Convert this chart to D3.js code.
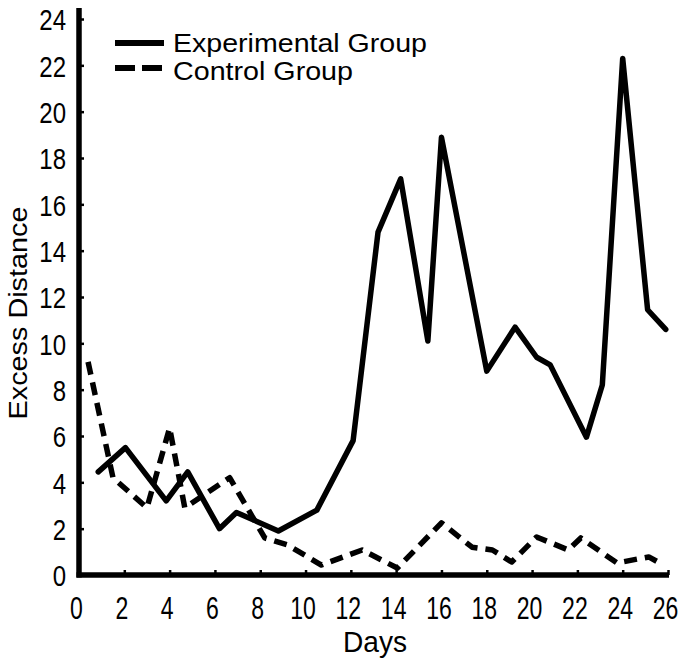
<!DOCTYPE html>
<html>
<head>
<meta charset="utf-8">
<script src="https://cdn.jsdelivr.net/npm/d3@7"></script>
<style>
  body { margin: 0; background: #fff; }
  text { font-family: "Liberation Sans", Arial, sans-serif; fill: #000; }
</style>
</head>
<body>
<div id="chart"></div>
<script>
// days and values
const expDays   = [0.85, 2.05, 3.85, 4.8, 6.2, 6.95, 8.8, 10.5, 12.1, 13.2, 14.2, 15.4, 16.0, 18.0, 19.25, 20.2, 20.8, 22.4, 23.1, 24.0, 25.1, 25.9];
const expValues = [4.45, 5.5, 3.2, 4.45, 2.0, 2.7, 1.9, 2.8, 5.8, 14.8, 17.1, 10.1, 18.9, 8.8, 10.7, 9.4, 9.07, 5.95, 8.2, 22.3, 11.45, 10.6];

const ctlDays   = [0.4, 1.5, 3.0, 4.0, 4.67, 6.65, 8.2, 9.2, 10.7, 12.5, 14.05, 16.0, 17.35, 18.25, 19.1, 20.2, 21.6, 22.15, 23.75, 25.15, 25.8];
const ctlValues = [9.2, 4.2, 2.9, 6.35, 2.9, 4.2, 1.6, 1.3, 0.43, 1.08, 0.3, 2.25, 1.2, 1.08, 0.56, 1.64, 1.08, 1.6, 0.52, 0.78, 0.43];

const xTicks = [0, 2, 4, 6, 8, 10, 12, 14, 16, 18, 20, 22, 24, 26];
const yTicks = [0, 2, 4, 6, 8, 10, 12, 14, 16, 18, 20, 22, 24];

const width = 686, height = 658;
const margin = {top: 19, right: 18, bottom: 83, left: 79};

const svg = d3.select("#chart").append("svg")
    .attr("width", width)
    .attr("height", height);

const x = d3.scaleLinear().domain([0, 26]).range([margin.left, width - margin.right]);
const y = d3.scaleLinear().domain([0, 24]).range([height - margin.bottom, margin.top]);

// axes, ticks point inward like the original
const xAxis = svg.append("g")
    .attr("transform", "translate(0," + y(0) + ")")
    .call(d3.axisBottom(x).tickValues(xTicks).tickSize(-5).tickSizeOuter(0));
const yAxis = svg.append("g")
    .attr("transform", "translate(" + x(0) + ",0)")
    .call(d3.axisLeft(y).tickValues(yTicks).tickSize(-5).tickSizeOuter(0));

[xAxis, yAxis].forEach(function(g) {
    g.select(".domain").attr("stroke", "#000").attr("stroke-width", 5.5);
    g.selectAll(".tick line").attr("stroke", "#000").attr("stroke-width", 2.5);
    g.selectAll(".tick text").attr("fill", "#000")
        .style("font-family", "'Liberation Sans', Arial, sans-serif");
});
xAxis.select(".domain").attr("d", "M" + (x(0) - 2.5) + ",0H" + (x(26) + 1));
yAxis.select(".domain").attr("d", "M0," + (y(0) + 2.5) + "V" + (y(24) - 11));
xAxis.selectAll(".tick").filter(function(d) { return d === 0; }).select("line").remove();
yAxis.selectAll(".tick").filter(function(d) { return d === 0; }).select("line").remove();

// condensed look of the old typeface
xAxis.selectAll(".tick text")
    .attr("font-size", 32)
    .attr("x", -3 / 0.72)
    .attr("y", 44)
    .attr("dy", 0)
    .attr("transform", "scale(0.72,1)");
yAxis.selectAll(".tick text")
    .attr("font-size", 30)
    .attr("x", -13 / 0.8)
    .attr("dy", "0.36em")
    .attr("transform", "scale(0.8,1)");

// axis titles
svg.append("text")
    .attr("x", 375)
    .attr("y", 652)
    .attr("text-anchor", "middle")
    .attr("font-size", 30)
    .attr("textLength", 64)
    .attr("lengthAdjust", "spacingAndGlyphs")
    .text("Days");

svg.append("text")
    .attr("transform", "translate(27,313) rotate(-90)")
    .attr("text-anchor", "middle")
    .attr("font-size", 26)
    .attr("textLength", 213)
    .attr("lengthAdjust", "spacingAndGlyphs")
    .text("Excess Distance");

// lines
const line = d3.line().x(function(d) { return x(d[0]); }).y(function(d) { return y(d[1]); });
const expData = expDays.map(function(d, i) { return [d, expValues[i]]; });
const ctlData = ctlDays.map(function(d, i) { return [d, ctlValues[i]]; });

svg.append("path")
    .datum(ctlData)
    .attr("d", line)
    .attr("fill", "none")
    .attr("stroke", "#000")
    .attr("stroke-width", 5.5)
    .attr("stroke-dasharray", "13,8")
    .attr("stroke-linejoin", "round");

svg.append("path")
    .datum(expData)
    .attr("d", line)
    .attr("fill", "none")
    .attr("stroke", "#000")
    .attr("stroke-width", 5.5)
    .attr("stroke-linejoin", "round")
    .attr("stroke-linecap", "round");

// legend
const legend = svg.append("g");
legend.append("line")
    .attr("x1", 115).attr("x2", 164).attr("y1", 43).attr("y2", 43)
    .attr("stroke", "#000").attr("stroke-width", 6);
legend.append("line")
    .attr("x1", 115).attr("x2", 164).attr("y1", 68).attr("y2", 68)
    .attr("stroke", "#000").attr("stroke-width", 6)
    .attr("stroke-dasharray", "20,7");
legend.append("text")
    .attr("x", 173).attr("y", 52)
    .attr("font-size", 25)
    .attr("textLength", 254)
    .attr("lengthAdjust", "spacingAndGlyphs")
    .text("Experimental Group");
legend.append("text")
    .attr("x", 173).attr("y", 80)
    .attr("font-size", 25)
    .attr("textLength", 180)
    .attr("lengthAdjust", "spacingAndGlyphs")
    .text("Control Group");
</script>
</body>
</html>
